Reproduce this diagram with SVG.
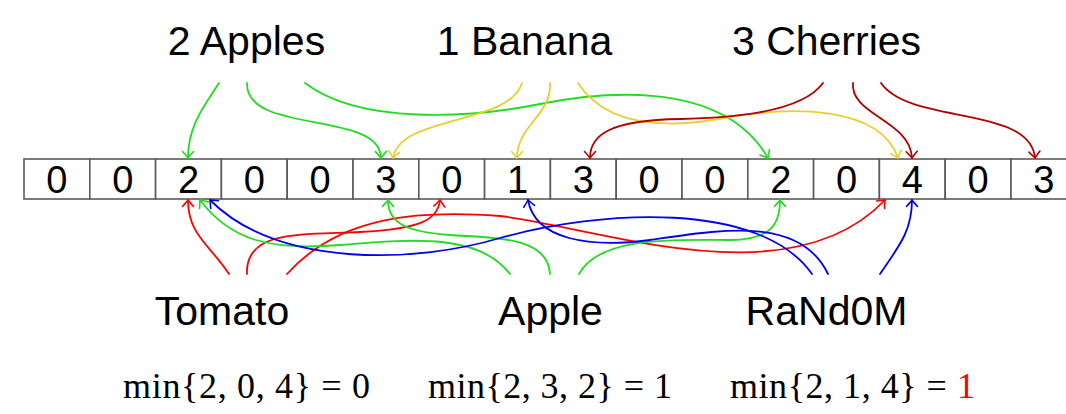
<svg xmlns="http://www.w3.org/2000/svg" width="1066" height="414" viewBox="0 0 1066 414">
  <defs>
    <style>
      .label { font-family: "Liberation Sans", Arial, sans-serif; font-size: 41px; fill: #000; text-anchor: middle; }
      .digit { font-family: "Liberation Sans", Arial, sans-serif; font-size: 38px; fill: #000; text-anchor: middle; }
      .formula { font-family: "Liberation Serif", "Times New Roman", serif; font-size: 36px; fill: #000; }
      .cellbox { fill: #fff; stroke: #5a5a5a; stroke-width: 1.6; }
      .wire { fill: none; stroke-width: 1.8; stroke-linecap: round; }
      .green { stroke: #22dc22; }
      .yellow { stroke: #e8cf30; }
      .darkred { stroke: #b30000; }
      .red { stroke: #ff0000; }
      .blue { stroke: #0000f0; }
      .tip { fill: none; stroke-width: 1.6; stroke-linecap: round; stroke-linejoin: round; }
    </style>
    <marker id="ah-green" markerUnits="userSpaceOnUse" markerWidth="12" markerHeight="12" refX="0" refY="0" orient="auto" overflow="visible">
      <path class="tip" stroke="#22dc22" d="M-6.5,-5.5 Q-2,-1.5 0,0 Q-2,1.5 -6.5,5.5"/>
    </marker>
    <marker id="ah-yellow" markerUnits="userSpaceOnUse" markerWidth="12" markerHeight="12" refX="0" refY="0" orient="auto" overflow="visible">
      <path class="tip" stroke="#e8cf30" d="M-6.5,-5.5 Q-2,-1.5 0,0 Q-2,1.5 -6.5,5.5"/>
    </marker>
    <marker id="ah-darkred" markerUnits="userSpaceOnUse" markerWidth="12" markerHeight="12" refX="0" refY="0" orient="auto" overflow="visible">
      <path class="tip" stroke="#b30000" d="M-6.5,-5.5 Q-2,-1.5 0,0 Q-2,1.5 -6.5,5.5"/>
    </marker>
    <marker id="ah-red" markerUnits="userSpaceOnUse" markerWidth="12" markerHeight="12" refX="0" refY="0" orient="auto" overflow="visible">
      <path class="tip" stroke="#ff0000" d="M-6.5,-5.5 Q-2,-1.5 0,0 Q-2,1.5 -6.5,5.5"/>
    </marker>
    <marker id="ah-blue" markerUnits="userSpaceOnUse" markerWidth="12" markerHeight="12" refX="0" refY="0" orient="auto" overflow="visible">
      <path class="tip" stroke="#0000f0" d="M-6.5,-5.5 Q-2,-1.5 0,0 Q-2,1.5 -6.5,5.5"/>
    </marker>
  </defs>

  <rect width="1066" height="414" fill="#fff"/>

  <!-- counter array: 16 cells, 65.8 wide, starting at x=24 -->
  <g id="array">
    <g id="cell-0"><rect class="cellbox" x="24" y="159" width="65.8" height="40"/><text class="digit" x="56.9" y="193">0</text></g>
    <g id="cell-1"><rect class="cellbox" x="89.8" y="159" width="65.8" height="40"/><text class="digit" x="122.7" y="193">0</text></g>
    <g id="cell-2"><rect class="cellbox" x="155.6" y="159" width="65.8" height="40"/><text class="digit" x="188.5" y="193">2</text></g>
    <g id="cell-3"><rect class="cellbox" x="221.4" y="159" width="65.8" height="40"/><text class="digit" x="254.3" y="193">0</text></g>
    <g id="cell-4"><rect class="cellbox" x="287.2" y="159" width="65.8" height="40"/><text class="digit" x="320.1" y="193">0</text></g>
    <g id="cell-5"><rect class="cellbox" x="353" y="159" width="65.8" height="40"/><text class="digit" x="385.9" y="193">3</text></g>
    <g id="cell-6"><rect class="cellbox" x="418.8" y="159" width="65.8" height="40"/><text class="digit" x="451.7" y="193">0</text></g>
    <g id="cell-7"><rect class="cellbox" x="484.6" y="159" width="65.8" height="40"/><text class="digit" x="517.5" y="193">1</text></g>
    <g id="cell-8"><rect class="cellbox" x="550.4" y="159" width="65.8" height="40"/><text class="digit" x="583.3" y="193">3</text></g>
    <g id="cell-9"><rect class="cellbox" x="616.2" y="159" width="65.8" height="40"/><text class="digit" x="649.1" y="193">0</text></g>
    <g id="cell-10"><rect class="cellbox" x="682" y="159" width="65.8" height="40"/><text class="digit" x="714.9" y="193">0</text></g>
    <g id="cell-11"><rect class="cellbox" x="747.8" y="159" width="65.8" height="40"/><text class="digit" x="780.7" y="193">2</text></g>
    <g id="cell-12"><rect class="cellbox" x="813.6" y="159" width="65.8" height="40"/><text class="digit" x="846.5" y="193">0</text></g>
    <g id="cell-13"><rect class="cellbox" x="879.4" y="159" width="65.8" height="40"/><text class="digit" x="912.3" y="193">4</text></g>
    <g id="cell-14"><rect class="cellbox" x="945.2" y="159" width="65.8" height="40"/><text class="digit" x="978.1" y="193">0</text></g>
    <g id="cell-15"><rect class="cellbox" x="1011" y="159" width="65.8" height="40"/><text class="digit" x="1043.9" y="193">3</text></g>
  </g>

  <!-- inserted items (top) -->
  <g id="apples"><text class="label" x="246.5" y="55">2 Apples</text></g>
  <g id="banana"><text class="label" x="524.5" y="55">1 Banana</text></g>
  <g id="cherries"><text class="label" x="826.5" y="55">3 Cherries</text></g>

  <!-- queried items (bottom) -->
  <g id="tomato"><text class="label" x="222" y="325">Tomato</text></g>
  <g id="apple"><text class="label" x="550.5" y="325">Apple</text></g>
  <g id="random"><text class="label" x="826.5" y="325">RaNd0M</text></g>

  <!-- minimum over the hashed counters -->
  <g id="min-tomato"><text class="formula" x="123" y="398" textLength="247" lengthAdjust="spacing">min{2, 0, 4} = 0</text></g>
  <g id="min-apple"><text class="formula" x="428" y="398" textLength="244" lengthAdjust="spacing">min{2, 3, 2} = 1</text></g>
  <g id="min-random"><text class="formula" x="730" y="398" textLength="245" lengthAdjust="spacing">min{2, 1, 4} = <tspan fill="#ff0000">1</tspan></text></g>

  <g id="connectors">
    <!-- 2 Apples -->
    <path class="wire green" marker-end="url(#ah-green)" d="M219,83 C205,105 188,125 188,158"/>
    <path class="wire green" marker-end="url(#ah-green)" d="M247,83 C245,135 380,110 381,158"/>
    <path class="wire green" marker-end="url(#ah-green)" d="M305,83 C360,125 470,118 540,104 C590,94 720,75 768,158"/>
    <!-- 1 Banana -->
    <path class="wire yellow" marker-end="url(#ah-yellow)" d="M522,83 C510,125 400,115 393,158"/>
    <path class="wire yellow" marker-end="url(#ah-yellow)" d="M550,83 C552,115 517,125 517,158"/>
    <path class="wire yellow" marker-end="url(#ah-yellow)" d="M578,83 C605,125 660,130 725,118 C790,106 880,105 898,158"/>
    <!-- 3 Cherries -->
    <path class="wire darkred" marker-end="url(#ah-darkred)" d="M823,83 C800,115 720,118 680,119 C610,120 590,135 590,158"/>
    <path class="wire darkred" marker-end="url(#ah-darkred)" d="M853,83 C850,115 910,120 912,158"/>
    <path class="wire darkred" marker-end="url(#ah-darkred)" d="M881,83 C910,125 1030,105 1035,158"/>
    <!-- Tomato -->
    <path class="wire red" marker-end="url(#ah-red)" d="M229,274 C210,245 188,235 188,200"/>
    <path class="wire red" marker-end="url(#ah-red)" d="M247,274 C245,230 300,235 360,232 C420,229 438,220 440,200"/>
    <path class="wire red" marker-end="url(#ah-red)" d="M287,274 C340,215 420,210 500,216 C600,228 790,300 885,200"/>
    <!-- Apple -->
    <path class="wire green" marker-end="url(#ah-green)" d="M510,274 C480,235 420,238 340,245 C270,251 230,240 200,200"/>
    <path class="wire green" marker-end="url(#ah-green)" d="M550,274 C548,235 490,238 450,235 C410,232 388,225 388,200"/>
    <path class="wire green" marker-end="url(#ah-green)" d="M579,274 C600,235 680,240 730,240 C770,240 780,225 780,200"/>
    <!-- RaNd0M -->
    <path class="wire blue" marker-end="url(#ah-blue)" d="M812,274 C760,200 600,210 500,238 C420,262 280,270 210,200"/>
    <path class="wire blue" marker-end="url(#ah-blue)" d="M828,274 C800,215 720,230 650,240 C590,248 535,240 528,200"/>
    <path class="wire blue" marker-end="url(#ah-blue)" d="M880,274 C900,245 912,230 912,200"/>
  </g>
</svg>
